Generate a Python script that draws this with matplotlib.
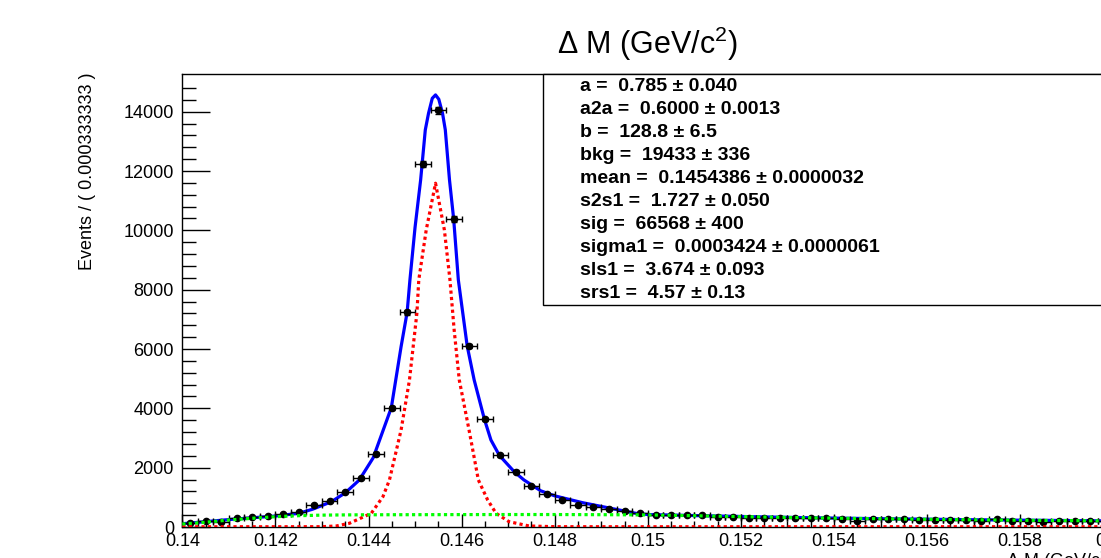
import numpy as np
import matplotlib
matplotlib.use("Agg")
import matplotlib.pyplot as plt
from matplotlib.patches import Rectangle

plt.rcParams['font.family'] = ['Liberation Sans', 'DejaVu Sans']
plt.rcParams['mathtext.fontset'] = 'custom'
plt.rcParams['mathtext.rm'] = 'Liberation Sans'

######################################
# histogram: 60 bins from 0.14 to 0.16
xLow = 0.14
xHigh = 0.16
nBins = 60
counts = [135, 200, 180, 293, 327, 371, 438, 510, 742, 887,
          1170, 1660, 2470, 4020, 7240, 12230, 14040, 10380, 6100, 3630,
          2420, 1865, 1382, 1113, 910, 742, 684, 597, 550, 462,
          415, 394, 394, 394, 347, 347, 314, 314, 293, 293,
          293, 293, 260, 212, 260, 260, 260, 236, 236, 236,
          236, 212, 260, 212, 212, 179, 212, 212, 212, 205]

# total fit (blue)
blueX = [0.1400, 0.1405, 0.1410, 0.1415, 0.1420, 0.1425, 0.1428, 0.1432, 0.1435, 0.1438,
         0.1441, 0.14449, 0.14470, 0.14483, 0.14489, 0.14500, 0.14512, 0.14522, 0.14529, 0.14537,
         0.14544, 0.14551, 0.14559, 0.14565, 0.14574, 0.14583, 0.14593, 0.14612, 0.14627, 0.14649,
         0.14663, 0.14681, 0.14713, 0.14734, 0.14770, 0.14800, 0.14860, 0.14931, 0.14974, 0.1500,
         0.1510, 0.1520, 0.1530, 0.1540, 0.1550, 0.1560, 0.1570, 0.1580, 0.1590, 0.1600]
blueY = [110, 180, 250, 310, 370, 460, 600, 850, 1150, 1580,
         2330, 4022, 6079, 7239, 8328, 10100, 11699, 13385, 13948, 14450,
         14565, 14420, 13948, 13385, 11699, 10374, 8328, 6103, 4956, 3631,
         2933, 2417, 1864, 1585, 1220, 1050, 819, 597, 462, 420,
         385, 355, 325, 300, 280, 262, 245, 230, 218, 205]

# signal component (red)
redX = [0.1400, 0.1420, 0.1430, 0.14331, 0.14359, 0.14406, 0.14431, 0.14445, 0.14470, 0.14488,
        0.14504, 0.14508, 0.14524, 0.14544, 0.14563, 0.14575, 0.14584, 0.14595, 0.14616, 0.14636,
        0.14656, 0.14674, 0.14702, 0.14745, 0.1480, 0.1500, 0.1600]
redY = [8, 8, 10, 34, 125, 462, 1022, 1585, 3270, 4956,
        7215, 8328, 10013, 11588, 10013, 8328, 6642, 4956, 3270, 1585,
        910, 462, 179, 34, 10, 8, 8]

# background component (green)
greenX = [0.1400, 0.1405, 0.1410, 0.1415, 0.1420, 0.1425, 0.1430, 0.1435, 0.1440, 0.1450,
          0.1460, 0.1470, 0.1480, 0.1490, 0.1500, 0.1510, 0.1520, 0.1530, 0.1540, 0.1550,
          0.1560, 0.1570, 0.1580, 0.1590, 0.1600]
greenY = [100, 160, 236, 293, 347, 381, 400, 408, 412, 415,
          418, 420, 420, 415, 408, 380, 350, 322, 298, 278,
          260, 243, 228, 216, 203]

paramLines = ["a =  0.785 \u00b1 0.040",
              "a2a =  0.6000 \u00b1 0.0013",
              "b =  128.8 \u00b1 6.5",
              "bkg =  19433 \u00b1 336",
              "mean =  0.1454386 \u00b1 0.0000032",
              "s2s1 =  1.727 \u00b1 0.050",
              "sig =  66568 \u00b1 400",
              "sigma1 =  0.0003424 \u00b1 0.0000061",
              "sls1 =  3.674 \u00b1 0.093",
              "srs1 =  4.57 \u00b1 0.13"]
######################################

binWidth = (xHigh - xLow) / nBins
centers = xLow + binWidth * (np.arange(nBins) + 0.5)
counts = np.array(counts)

W, H = 1101, 558
fig = plt.figure(figsize=(W / 100, H / 100), dpi=100)
# axes frame runs past the right edge of the picture (cropped canvas)
axL, axR, axT, axB = 182.3, 1113.3, 74, 527
ax = fig.add_axes([axL / W, (H - axB) / H, (axR - axL) / W, (axB - axT) / H])

#### CURVES AND DATA
ax.plot(blueX, blueY, color='#0000ff', lw=2.3, zorder=2)
ax.errorbar(centers, counts, xerr=binWidth / 2, yerr=np.sqrt(counts), fmt='o',
            color='black', ms=4.5, elinewidth=1, capsize=2, capthick=1, zorder=3)
ax.plot(redX, redY, color='#ff0000', lw=2.3, ls=(0, (1, 1)), zorder=4)
ax.plot(greenX, greenY, color='#00ff00', lw=2.3, ls=(0, (1, 1)), zorder=4)

#### AXES
ax.set_xlim(xLow, xHigh)
ax.set_ylim(0, 15270)
ax.set_xticks(np.arange(0.14, 0.1601, 0.002))
ax.set_xticks(np.arange(0.14, 0.1601, 0.0005), minor=True)
ax.set_xticklabels(['0.14', '0.142', '0.144', '0.146', '0.148', '0.15',
                    '0.152', '0.154', '0.156', '0.158', '0.16'])
ax.set_yticks(np.arange(0, 15000, 2000))
ax.set_yticks(np.arange(0, 15200, 400), minor=True)
ax.tick_params(axis='both', which='both', direction='in', labelsize=13, width=1)
ax.tick_params(axis='x', which='major', length=9.5, pad=4)
ax.tick_params(axis='x', which='minor', length=4.5)
ax.tick_params(axis='y', which='major', length=20, pad=6)
ax.tick_params(axis='y', which='minor', length=10)
for s in ax.spines.values():
    s.set_linewidth(1)

fig.text(88 / W, 1 - 73 / H, 'Events / ( 0.000333333 )', rotation=90,
         ha='center', va='top', fontsize=13)
fig.text(axR / W, 1 - 549 / H, '\u0394 M (GeV/c$^{2}$)', ha='right', va='top', fontsize=13)
fig.text((axL + axR) / 2 / W, 1 - 54 / H, '\u0394 M (GeV/c$^{2}$)', ha='center',
         va='baseline', fontsize=22)

#### PARAMETER BOX
boxL = (543 - axL) / (axR - axL)
boxB = (axB - 305) / (axB - axT)
ax.add_patch(Rectangle((boxL, boxB), 1 - boxL, 1 - boxB, transform=ax.transAxes,
                       facecolor='white', edgecolor='black', lw=1, zorder=5, clip_on=False))
for i, line in enumerate(paramLines):
    yPix = 91 + i * (298 - 91) / (len(paramLines) - 1)
    ax.text((580 - axL) / (axR - axL), (axB - yPix) / (axB - axT), line,
            transform=ax.transAxes, ha='left', va='baseline', fontsize=14,
            fontweight='bold', zorder=6)

fig.savefig('out.png', dpi=100)
